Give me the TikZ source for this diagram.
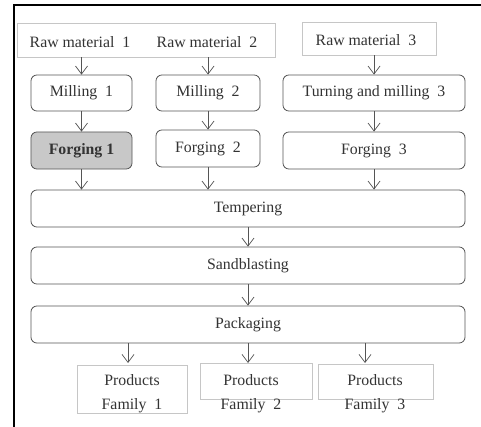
\documentclass[tikz,border=0pt]{standalone}
\usepackage{fontspec}
\setmainfont{Liberation Serif}
\usepackage{xcolor}
\usepackage{tikz}
\usetikzlibrary{arrows.meta}
\definecolor{FlowText}{HTML}{333333}
\definecolor{FlowLine}{HTML}{555555}
\definecolor{FlowPale}{HTML}{C6C6C6}
\definecolor{FlowFill}{HTML}{C8C8C8}
\tikzset{
  procbox/.style={draw=FlowLine,line width=.7pt,rounded corners=5pt,inner sep=0pt,
    text=FlowText,font=\fontsize{13.5}{16}\selectfont},
  palebox/.style={draw=FlowPale,line width=.6pt,inner sep=0pt},
  flowtext/.style={text=FlowText,inner sep=0pt,font=\fontsize{13.5}{16}\selectfont},
  flowarrow/.style={draw=FlowLine,line width=.6pt,-{Straight Barb[length=2.4mm,width=3.6mm]}}
}

\begin{document}
\begin{tikzpicture}[x=0.03cm,y=-0.03cm]
\useasboundingbox (0,0) rectangle (481,427);
\fill[white] (0,0) rectangle (481,427);
\draw[black,line width=1.6pt] (481,5) -- (14,5) -- (14,427);
% raw materials
\node[palebox,minimum width=7.74cm,minimum height=1.02cm] (raw12) at (146,40) {};
\node[flowtext] (rm1) at (80,42) {Raw material~~1};
\node[flowtext] (rm2) at (207,42) {Raw material~~2};
\node[palebox,minimum width=4.02cm,minimum height=0.99cm] (raw3) at (369,38.5) {};
\node[flowtext] (rm3) at (366,40) {Raw material~~3};
% machining
\node[procbox,minimum width=3.03cm,minimum height=1.08cm] (mill1) at (81.5,93) {Milling~~1};
\node[procbox,minimum width=3.12cm,minimum height=1.08cm] (mill2) at (208,93) {Milling~~2};
\node[procbox,minimum width=5.46cm,minimum height=1.08cm] (mill3) at (374,93) {Turning and milling~~3};
% forging
\node[procbox,fill=FlowFill,minimum width=3.03cm,minimum height=1.11cm] (forg1) at (81.5,150.5) {\textbf{Forging 1}};
\node[procbox,minimum width=3.12cm,minimum height=1.11cm] (forg2) at (208,148.5) {Forging~~2};
\node[procbox,minimum width=5.46cm,minimum height=1.11cm] (forg3) at (374,150.5) {Forging~~3};
% common steps
\node[procbox,minimum width=13.02cm,minimum height=1.11cm] (temper) at (248,208.5) {Tempering};
\node[procbox,minimum width=13.02cm,minimum height=1.11cm] (sand) at (248,265.5) {Sandblasting};
\node[procbox,minimum width=13.02cm,minimum height=1.11cm] (pack) at (248,324.5) {Packaging};
% product families
\node[palebox,minimum width=3.3cm,minimum height=1.44cm] (prod1) at (132,389) {};
\node[palebox,minimum width=3.36cm,minimum height=1.08cm] (prod2) at (256,381) {};
\node[palebox,minimum width=3.45cm,minimum height=1.05cm] (prod3) at (375.5,381.5) {};
\node[flowtext,align=center,font=\fontsize{13.5}{20.5}\selectfont] (fam1) at (132,394) {Products\\Family~~1};
\node[flowtext,align=center,font=\fontsize{13.5}{20.5}\selectfont] (fam2) at (251,394) {Products\\Family~~2};
\node[flowtext,align=center,font=\fontsize{13.5}{20.5}\selectfont] (fam3) at (375,394) {Products\\Family~~3};
\coordinate (p1top) at (128,363);
\coordinate (p2top) at (248,363);
\coordinate (p3top) at (365,363);
% connectors
\draw[flowarrow] (mill1.north |- raw12.south) -- (mill1.north);
\draw[flowarrow] (mill2.north |- raw12.south) -- (mill2.north);
\draw[flowarrow] (mill3.north |- raw3.south) -- (mill3.north);
\draw[flowarrow] (mill1) -- (forg1);
\draw[flowarrow] (mill2) -- (forg2);
\draw[flowarrow] (mill3) -- (forg3);
\draw[flowarrow] (forg1.south) -- (forg1.south |- temper.north);
\draw[flowarrow] (forg2.south) -- (forg2.south |- temper.north);
\draw[flowarrow] (forg3.south) -- (forg3.south |- temper.north);
\draw[flowarrow] (temper) -- (sand);
\draw[flowarrow] (sand) -- (pack);
\draw[flowarrow] (pack.south -| p1top) -- (p1top);
\draw[flowarrow] (pack.south -| p2top) -- (p2top);
\draw[flowarrow] (pack.south -| p3top) -- (p3top);
\end{tikzpicture}
\end{document}
